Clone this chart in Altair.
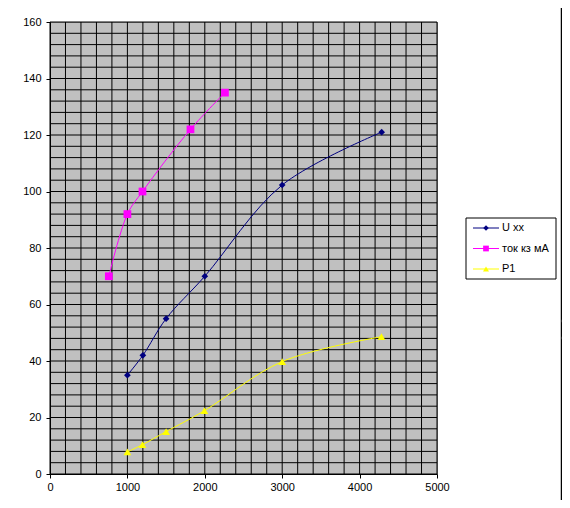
import altair as alt
import pandas as pd

# ---- data ----
series_names = ["U xx", "ток кз мА", "P1"]
series_colors = ["#000080", "#FF00FF", "#FFFF00"]
series_shapes = ["diamond", "square", "triangle-up"]
series_sizes = [45, 60, 60]
legend_sizes = [30, 36, 36]

u_x = [1000, 1200, 1500, 2000, 3000, 4285]
u_y = [35, 42, 55, 70, 102.3, 121]

i_x = [760, 1000, 1195, 1815, 2260]
i_y = [70, 92, 100, 122, 135]

p_x = [1000, 1195, 1500, 1995, 3000, 4282]
p_y = [7.8, 10.4, 15.0, 22.4, 39.8, 48.6]

x_ticks = [0, 1000, 2000, 3000, 4000, 5000]
y_ticks = [0, 20, 40, 60, 80, 100, 120, 140, 160]
x_grid = list(range(0, 5001, 200))
y_grid = list(range(0, 161, 4))

FONT = "Liberation Sans"

rows = []
for name, xs, ys in [(series_names[0], u_x, u_y),
                     (series_names[1], i_x, i_y),
                     (series_names[2], p_x, p_y)]:
    for k, (a, b) in enumerate(zip(xs, ys)):
        rows.append({"series": name, "x": a, "y": b, "order": k})
df = pd.DataFrame(rows)
leg_df = pd.DataFrame({"series": series_names})

xscale = alt.Scale(domain=[0, 5000], nice=False, zero=False)
yscale = alt.Scale(domain=[0, 160], nice=False, zero=False)
cscale = alt.Scale(domain=series_names, range=series_colors)

xaxis = alt.Axis(values=x_ticks, grid=False, title=None, tickSize=4,
                 tickColor="black", domainColor="black", labelColor="black",
                 labelFont=FONT, labelFontSize=11, labelPadding=3,
                 labelFlush=False, format="d")
yaxis = alt.Axis(values=y_ticks, grid=False, title=None, tickSize=4,
                 tickColor="black", domainColor="black", labelColor="black",
                 labelFont=FONT, labelFontSize=11, labelPadding=5, format="d")

gx = alt.Chart(pd.DataFrame({"g": x_grid})).mark_rule(
    color="black", strokeWidth=1).encode(
    x=alt.X("g:Q", scale=xscale, axis=xaxis))
gy = alt.Chart(pd.DataFrame({"g": y_grid})).mark_rule(
    color="black", strokeWidth=1).encode(
    y=alt.Y("g:Q", scale=yscale, axis=yaxis))

base = alt.Chart(df).encode(
    x=alt.X("x:Q", scale=xscale, axis=xaxis),
    y=alt.Y("y:Q", scale=yscale, axis=yaxis),
)

lines = base.mark_line(interpolate="catmull-rom", strokeWidth=1,
                       opacity=1).encode(
    color=alt.Color("series:N", scale=cscale, legend=None),
    detail="series:N", order="order:Q")

pt_layers = []
for name, shp, sz in zip(series_names, series_shapes, series_sizes):
    pt_layers.append(
        base.transform_filter(alt.datum.series == name)
        .mark_point(filled=True, opacity=1, shape=shp, size=sz)
        .encode(color=alt.Color("series:N", scale=cscale, legend=None))
    )

# ---- legend box (Excel style), laid out in pixels of the plot frame ----
names_js = "[" + ",".join("'%s'" % n for n in series_names) + "]"
leg_base = alt.Chart(leg_df).transform_calculate(
    ly="206 + 20.5 * indexof(%s, datum.series)" % names_js
)
box = alt.Chart(pd.DataFrame({"a": [0]})).mark_rect(
    fill="white", stroke="black", strokeWidth=1, clip=False).encode(
    x=alt.value(416), x2=alt.value(506), y=alt.value(196), y2=alt.value(257))
leg_lines = leg_base.mark_rule(strokeWidth=1, clip=False).encode(
    x=alt.value(423), x2=alt.value(449),
    y=alt.Y("ly:Q", scale=None, axis=None),
    color=alt.Color("series:N", scale=cscale, legend=None))
leg_pts = leg_base.mark_point(filled=True, opacity=1, clip=False).encode(
    x=alt.value(436),
    y=alt.Y("ly:Q", scale=None, axis=None),
    color=alt.Color("series:N", scale=cscale, legend=None),
    shape=alt.Shape("series:N", legend=None,
                    scale=alt.Scale(domain=series_names, range=series_shapes)),
    size=alt.Size("series:N", legend=None,
                  scale=alt.Scale(domain=series_names, range=legend_sizes)))
leg_text = leg_base.mark_text(align="left", baseline="middle", font=FONT,
                              fontSize=11, color="black", clip=False).encode(
    x=alt.value(452),
    y=alt.Y("ly:Q", scale=None, axis=None),
    text="series:N")

one = pd.DataFrame({"a": [0]})
edge = alt.Chart(one).mark_rule(color="black", strokeWidth=1.5, clip=False).encode(
    x=alt.value(511.5), y=alt.value(-14), y2=alt.value(478))
marks = alt.Chart(pd.DataFrame({"yy": [299, 316]})).mark_rule(
    color="#222222", strokeWidth=2.5, clip=False).encode(
    x=alt.value(511), x2=alt.value(520), y=alt.Y("yy:Q", scale=None, axis=None))

chart = alt.layer(gx, gy, lines, *pt_layers, box, leg_lines, leg_pts, leg_text,
                  edge, marks).properties(
    width=387, height=452,
    autosize=alt.AutoSizeParams(type="none"),
    padding={"left": 42, "top": 14, "right": 125, "bottom": 26},
    background="white",
).configure_view(
    fill="#C0C0C0", stroke="#808080", strokeWidth=1
)

chart.save("out.html", embed_options={"renderer": "svg", "actions": False})
